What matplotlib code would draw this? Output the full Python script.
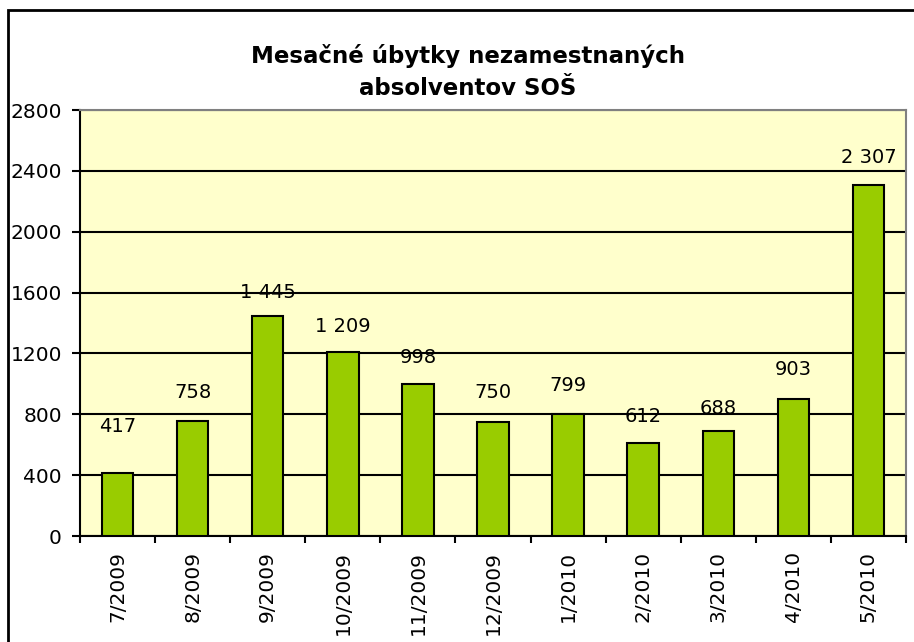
import numpy as np
import matplotlib as mpl
mpl.use('Agg')
import matplotlib.pyplot as plt
from matplotlib.patches import Rectangle

# data
months = ["7/2009", "8/2009", "9/2009", "10/2009", "11/2009", "12/2009",
          "1/2010", "2/2010", "3/2010", "4/2010", "5/2010"]
values = [417, 758, 1445, 1209, 998, 750, 799, 612, 688, 903, 2307]
# how far above the bar each label sits (y units), as in the original
label_lift = [300, 185, 155, 170, 175, 190, 190, 175, 150, 190, 180]

title = "Mesačné úbytky nezamestnaných\nabsolventov SOŠ"

plt.rcParams['font.family'] = ['DejaVu Sans']
SetFontSize = 14.5

fig = plt.figure(figsize=(9.14, 6.42), dpi=100)
fig.patch.set_facecolor('white')

# outer frame of the chart object (cut off on the right and bottom)
fig.patches.append(Rectangle((8/914, -0.05), 1.2, (642-10)/642 + 0.05, transform=fig.transFigure,
                             fill=False, edgecolor='black', linewidth=2))

ax = fig.add_axes([80/914, (642-536)/642, 826/914, 426/642])
ax.set_facecolor('#FFFFCC')

x = np.arange(len(values))
ax.bar(x, values, width=0.42, color='#99CC00', edgecolor='black', linewidth=1.5, zorder=3)

for xi, v, lift in zip(x, values, label_lift):
    txt = "{:,}".format(v).replace(",", " ")
    ax.text(xi, v + lift, txt, ha='center', va='center', fontsize=14, zorder=4)

ax.set_xlim(-0.5, len(values) - 0.5)
ax.set_ylim(0, 2800)
ax.set_yticks(np.arange(0, 2801, 400))
ax.yaxis.grid(True, color='black', linewidth=1.5, zorder=1)
ax.set_axisbelow(True)

ax.set_xticks(x)
ax.set_xticklabels(months, rotation=90, fontsize=SetFontSize)
ax.set_xticks(np.arange(-0.5, len(values), 1), minor=True)
ax.tick_params(axis='x', which='major', length=0, pad=11)
ax.tick_params(axis='x', which='minor', length=5, width=1.5, color='black')
ax.tick_params(axis='y', length=6, width=1.5, labelsize=SetFontSize, pad=7)

for side in ['left', 'bottom']:
    ax.spines[side].set_color('black')
    ax.spines[side].set_linewidth(1.5)
for side in ['right', 'top']:
    ax.spines[side].set_color('#808080')
    ax.spines[side].set_linewidth(1.5)

fig.text(468/914, 1 - 72/642, title, ha='center', va='center', fontsize=16.5,
         fontweight='bold', linespacing=1.5)

plt.savefig("out.png", dpi=100)
